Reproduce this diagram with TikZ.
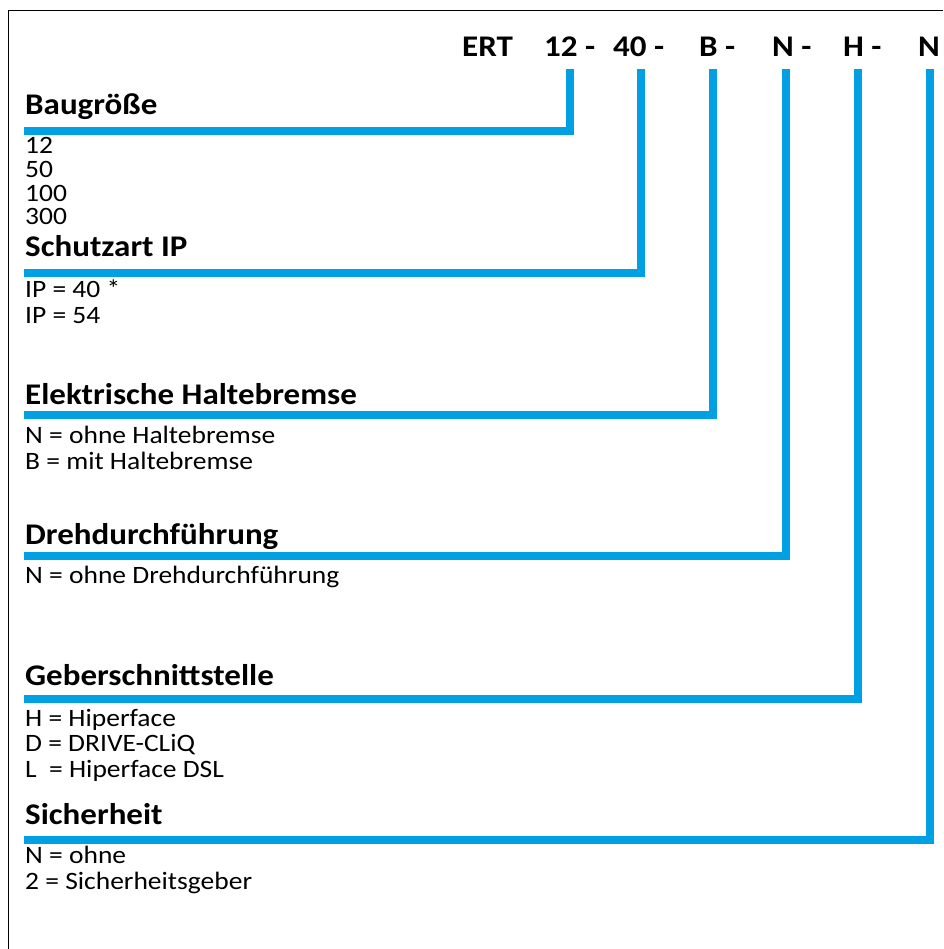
\documentclass[tikz,border=0pt]{standalone}
\usepackage{fontspec}
\setmainfont{Carlito}[FakeStretch=1.1]
\usepackage{xcolor}
\definecolor{barblue}{RGB}{0,160,227}
\usetikzlibrary{positioning}

\begin{document}
\begin{tikzpicture}[x=1pt, y=-1pt,
    code/.style={anchor=base west, inner sep=0pt, font=\fontsize{30}{36}\selectfont\bfseries},
    head/.style={anchor=base west, inner sep=0pt, font=\fontsize{30}{36}\selectfont\bfseries},
    item/.style={anchor=base west, inner sep=0pt, align=left, font=\fontsize{25}{25.5}\selectfont},
    bar/.style={barblue, line width=7.5pt},
]
\useasboundingbox (0,0) rectangle (943,949);
\draw[line width=1pt] (8.5,949) -- (8.5,10.5) -- (943,10.5);
\node[code] (ert) at (462,57) {ERT};
\node[code] (c12) at (544,57) {12 -};
\node[code] (c40) at (613,57) {40 -};
\node[code] (cb) at (699,57) {B -};
\node[code] (cn) at (772,57) {N -};
\node[code] (ch) at (843,57) {H -};
\node[code] (cs) at (918,57) {N};
% base anchor of a multi-line node sits on its last line
\node[head] (size) at (25,115) {Baugröße};
\node[item, font=\fontsize{25}{23.7}\selectfont] (sizeval) at (25,225) {12\\50\\100\\300};
\node[head] (ip) at (25,257) {Schutzart IP};
\node[item] (ipval) at (25,323) {IP = 40 *\\IP = 54};
\node[head] (brake) at (25,404) {Elektrische Haltebremse};
\node[item] (brakeval) at (25,469) {N = ohne Haltebremse\\B = mit Haltebremse};
\node[head] (rot) at (25,544) {Drehdurchführung};
\node[item] (rotval) at (25,583) {N = ohne Drehdurchführung};
\node[head] (enc) at (25,685) {Geberschnittstelle};
\node[item] (encval) at (25,777) {H = Hiperface\\D = DRIVE-CLiQ\\L\ \ = Hiperface DSL};
\node[head] (safe) at (25,824) {Sicherheit};
\node[item] (safeval) at (25,889) {N = ohne\\2 = Sicherheitsgeber};
\coordinate (l1) at (24,131); \coordinate (t1) at (570,69);
\coordinate (l2) at (24,273); \coordinate (t2) at (641,69);
\coordinate (l3) at (24,415); \coordinate (t3) at (713,69);
\coordinate (l4) at (24,556); \coordinate (t4) at (786,69);
\coordinate (l5) at (24,699); \coordinate (t5) at (858,69);
\coordinate (l6) at (24,840); \coordinate (t6) at (930,69);
\draw[bar] (l1) -| (t1); \draw[bar] (l2) -| (t2); \draw[bar] (l3) -| (t3);
\draw[bar] (l4) -| (t4); \draw[bar] (l5) -| (t5); \draw[bar] (l6) -| (t6);
\end{tikzpicture}
\end{document}
